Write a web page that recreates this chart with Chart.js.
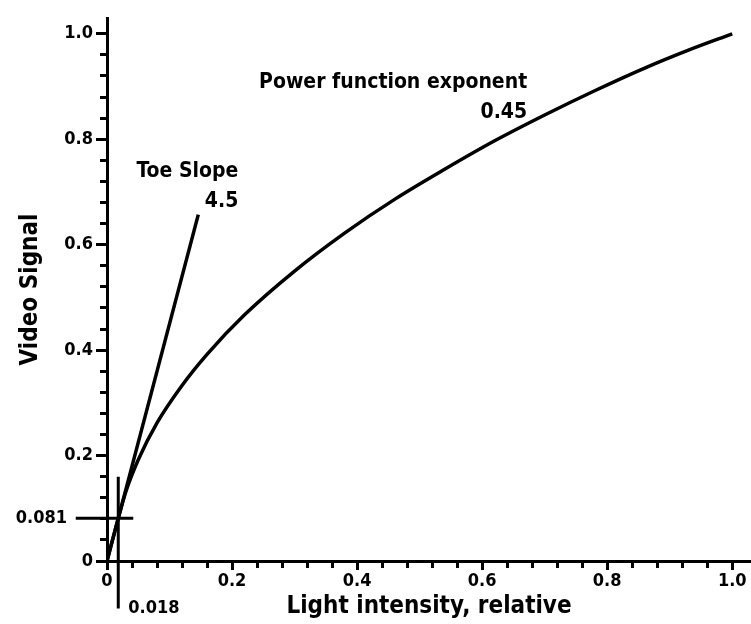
<!DOCTYPE html>
<html>
<head>
<meta charset="utf-8">
<script src="https://cdn.jsdelivr.net/npm/chart.js@4.4.1/dist/chart.umd.min.js"></script>
<style>
  html, body { margin: 0; padding: 0; background: #fff; }
  #wrap { width: 751px; height: 624px; position: relative; }
</style>
</head>
<body>
<div id="wrap"><canvas id="gammaChart"></canvas></div>
<script>
// transfer curve
const lightValues  = [0, 0.018, 0.03, 0.05, 0.08, 0.12, 0.16, 0.22, 0.30, 0.38, 0.46, 0.54, 0.62, 0.70, 0.78, 0.86, 0.93, 1.0];
const signalValues = [0, 0.081, 0.131, 0.192, 0.262, 0.333, 0.392, 0.467, 0.550, 0.622, 0.686, 0.743, 0.797, 0.846, 0.892, 0.935, 0.969, 1.0];

// toe slope line (slope 4.5)
const toeLight  = [0, 0.146];
const toeSignal = [0, 0.657];

// crosshair at the breakpoint
const crossVLight  = [0.018, 0.018];
const crossVSignal = [0.16, -0.09];
const crossHLight  = [-0.05, 0.042];
const crossHSignal = [0.081, 0.081];

// ticks
const axisTicks  = [0, 0.04, 0.08, 0.12, 0.16, 0.2, 0.24, 0.28, 0.32, 0.36, 0.4, 0.44, 0.48, 0.52, 0.56,
                    0.6, 0.64, 0.68, 0.72, 0.76, 0.8, 0.84, 0.88, 0.92, 0.96, 1.0];
const majorTicks = [0, 0.2, 0.4, 0.6, 0.8, 1.0];
const majorLabels = ['0', '0.2', '0.4', '0.6', '0.8', '1.0'];

const FAMILY = "'DejaVu Sans Condensed', 'DejaVu Sans', sans-serif";

const toPoints = (xs, ys) => xs.map((x, i) => ({ x: x, y: ys[i] }));
const majorIndex = v => majorTicks.findIndex(m => Math.abs(m - v) < 1e-6);

// minor ticks: dash so only the part next to the axis shows
const tickDashX = ctx => (ctx.tick && majorIndex(ctx.tick.value) < 0) ? [5, 100] : [];
const tickDashY = ctx => (ctx.tick && majorIndex(ctx.tick.value) < 0) ? [0, 4, 7, 100] : [];

// text notes in data coordinates
const notes = [
  { text: 'Power function exponent', x: 0.672, y: 0.8975, align: 'right', base: 'alphabetic', size: 21 },
  { text: '0.45', x: 0.672, y: 0.8406, align: 'right', base: 'alphabetic', size: 21 },
  { text: 'Toe Slope', x: 0.21, y: 0.7287, align: 'right', base: 'alphabetic', size: 21 },
  { text: '4.5', x: 0.21, y: 0.6717, align: 'right', base: 'alphabetic', size: 21 },
  { text: '0.081', x: -0.064, y: 0.081, align: 'right', base: 'middle', size: 18 },
  { text: '0.018', x: 0.034, y: -0.089, align: 'left', base: 'middle', size: 18 }
];

const notesPlugin = {
  id: 'notes',
  afterDraw(chart) {
    const { ctx, scales } = chart;
    ctx.save();
    ctx.fillStyle = '#000';
    notes.forEach(n => {
      ctx.font = `bold ${n.size}px ${FAMILY}`;
      ctx.textAlign = n.align;
      ctx.textBaseline = n.base;
      ctx.fillText(n.text, scales.x.getPixelForValue(n.x), scales.y.getPixelForValue(n.y));
    });
    ctx.restore();
  }
};

const lineStyle = { showLine: true, borderColor: '#000', pointRadius: 0, fill: false };

new Chart(document.getElementById('gammaChart'), {
  type: 'scatter',
  data: {
    datasets: [
      { ...lineStyle, label: 'curve', data: toPoints(lightValues, signalValues), borderWidth: 3.5, cubicInterpolationMode: 'monotone' },
      { ...lineStyle, label: 'toe', data: toPoints(toeLight, toeSignal), borderWidth: 3.5 },
      { ...lineStyle, label: 'crossV', data: toPoints(crossVLight, crossVSignal), borderWidth: 3, clip: false },
      { ...lineStyle, label: 'crossH', data: toPoints(crossHLight, crossHSignal), borderWidth: 3, clip: false }
    ]
  },
  options: {
    responsive: true,
    maintainAspectRatio: false,
    animation: false,
    layout: { padding: { left: 0, right: 0, top: 18, bottom: 0 } },
    plugins: { legend: { display: false }, tooltip: { enabled: false } },
    scales: {
      x: {
        type: 'linear', position: 'bottom', min: 0, max: 1.03,
        afterBuildTicks: axis => { axis.ticks = axisTicks.map(v => ({ value: v })); },
        afterFit: scale => { scale.height = 63; },
        border: { color: '#000', width: 3 },
        grid: { drawOnChartArea: false, tickLength: 9, tickWidth: 3, tickColor: '#000', tickBorderDash: tickDashX },
        ticks: {
          autoSkip: false, maxRotation: 0, padding: 1, color: '#000',
          font: { family: FAMILY, weight: 'bold', size: 18 },
          callback: v => { const i = majorIndex(v); return i < 0 ? '' : majorLabels[i]; }
        },
        title: {
          display: true, text: 'Light intensity, relative', color: '#000',
          font: { family: FAMILY, weight: 'bold', size: 24, lineHeight: 1 },
          padding: { top: 0, bottom: 5 }
        }
      },
      y: {
        type: 'linear', position: 'left', min: 0, max: 1.03,
        afterBuildTicks: axis => { axis.ticks = axisTicks.map(v => ({ value: v })); },
        afterFit: scale => { scale.width = 107; },
        border: { color: '#000', width: 3 },
        grid: { drawOnChartArea: false, tickLength: 11, tickWidth: 3, tickColor: '#000', tickBorderDash: tickDashY },
        ticks: {
          autoSkip: false, padding: 3, color: '#000',
          font: { family: FAMILY, weight: 'bold', size: 18 },
          callback: v => { const i = majorIndex(v); return i < 0 ? '' : majorLabels[i]; }
        },
        title: {
          display: true, text: 'Video Signal', color: '#000',
          font: { family: FAMILY, weight: 'bold', size: 24, lineHeight: 1 },
          padding: { top: 19, bottom: 4 }
        }
      }
    }
  },
  plugins: [notesPlugin]
});
</script>
</body>
</html>
